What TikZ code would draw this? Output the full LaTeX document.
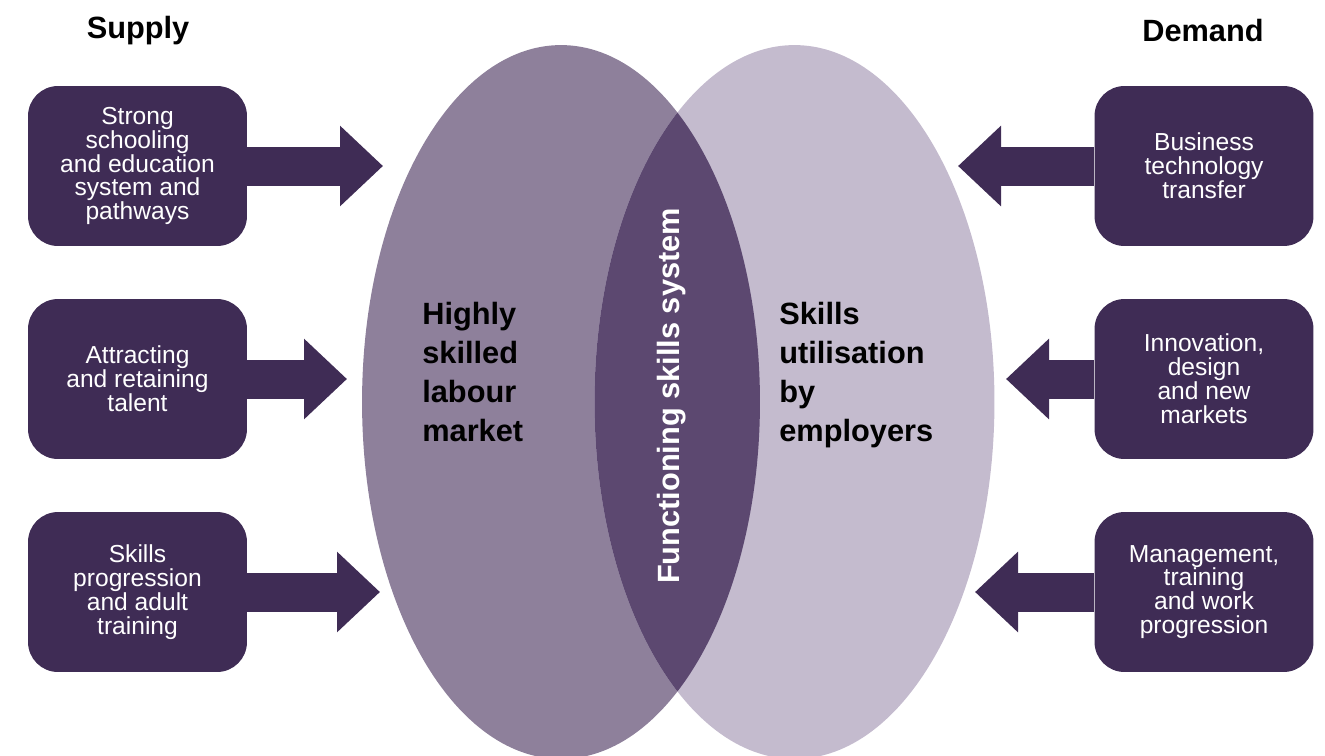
\documentclass[tikz,border=0pt]{standalone}
\usepackage{fontspec}
\setmainfont{Liberation Sans}
\usetikzlibrary{arrows.meta}
\definecolor{boxpurple}{HTML}{3F2C55}
\definecolor{leftoval}{HTML}{8E809B}
\definecolor{rightoval}{HTML}{C4BBCE}
\definecolor{lenspurple}{HTML}{5C4870}
\tikzset{
  factor/.style={fill=boxpurple, rounded corners=0.6cm, minimum width=4.38cm,
    minimum height=3.2cm, inner sep=0pt, text=white, align=center,
    font=\fontsize{14}{13.6}\selectfont},
  push/.style={draw=boxpurple, line width=0.78cm,
    -{Triangle[length=0.86cm,width=1.56cm]}},
  heading/.style={font=\bfseries\fontsize{17.5}{21}\selectfont},
  ovaltext/.style={font=\bfseries\fontsize{17.5}{22.1}\selectfont, align=left,
    anchor=west, inner sep=0pt}
}
\begin{document}
\begin{tikzpicture}[x=0.02cm, y=-0.02cm]
      \clip (0,0) rectangle (1325,755);
      %%ovals
      \fill[leftoval] (561,402) ellipse [x radius=3.98cm, y radius=7.14cm];
      \fill[rightoval] (794.5,402) ellipse [x radius=4cm, y radius=7.14cm];
      \begin{scope}
        \clip (561,402) ellipse [x radius=3.98cm, y radius=7.14cm];
        \fill[lenspurple] (794.5,402) ellipse [x radius=4cm, y radius=7.14cm];
      \end{scope}
      \node[ovaltext] (labour) at (422,372) {Highly\\skilled\\labour\\market};
      \node[ovaltext] (employers) at (779,375) {Skills\\utilisation\\by\\employers};
      \node[heading, rotate=90, text=white] (core) at (672,396) {Functioning skills system};

      %%supply
      \node[heading] (supply) at (138,31) {Supply};
      \node[factor] (s1) at (137.5,166) {Strong\\schooling\\and education\\system and\\pathways};
      \node[factor] (s2) at (137.5,379) {Attracting\\and retaining\\talent};
      \node[factor] (s3) at (137.5,592) {Skills\\progression\\and adult\\training};
        \coordinate (t1) at (383,166);
        \coordinate (t2) at (347,379);
        \coordinate (t3) at (380,592);
      \draw[push] (s1.east) -- (t1);
      \draw[push] (s2.east) -- (t2);
      \draw[push] (s3.east) -- (t3);

      %%demand
      \node[heading] (demand) at (1203,31) {Demand};
      \node[factor] (d1) at (1204,166) {Business\\technology\\transfer};
      \node[factor] (d2) at (1204,379) {Innovation,\\design\\and new\\markets};
      \node[factor] (d3) at (1204,592) {Management,\\training\\and work\\progression};
        \coordinate (u1) at (958,166);
        \coordinate (u2) at (1006,379);
        \coordinate (u3) at (975,592);
      \draw[push] (d1.west) -- (u1);
      \draw[push] (d2.west) -- (u2);
      \draw[push] (d3.west) -- (u3);
\end{tikzpicture}
\end{document}
